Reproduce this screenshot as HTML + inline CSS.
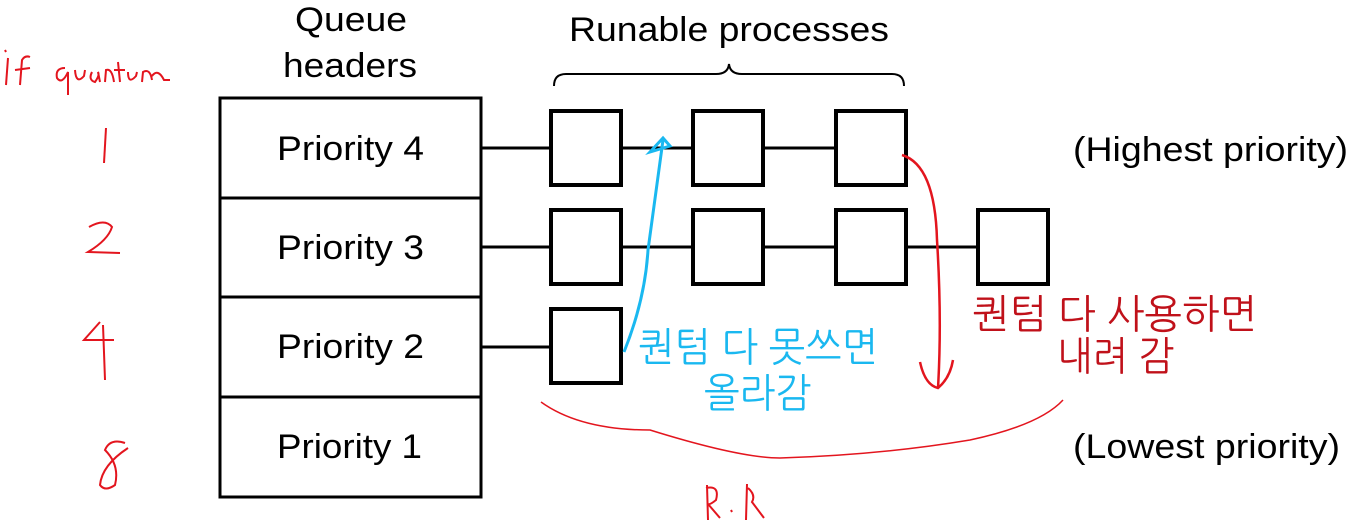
<!DOCTYPE html>
<html><head><meta charset="utf-8"><style>
html,body{margin:0;padding:0;background:#fff;}
svg{display:block}
text{font-family:"Liberation Sans",Arial,sans-serif;}
.k{font-family:"Liberation Sans","NanumGothic","Noto Sans CJK KR",sans-serif;}
</style></head><body>
<svg width="1361" height="532" viewBox="0 0 1361 532" xmlns="http://www.w3.org/2000/svg">
<g fill="#000" font-size="34">
<text x="295" y="31" textLength="112" lengthAdjust="spacingAndGlyphs">Queue</text>
<text x="283" y="77" textLength="134" lengthAdjust="spacingAndGlyphs">headers</text>
<text x="569" y="41" textLength="320" lengthAdjust="spacingAndGlyphs">Runable processes</text>
<text x="1073" y="161" textLength="275" lengthAdjust="spacingAndGlyphs">(Highest priority)</text>
<text x="1073" y="458" textLength="267" lengthAdjust="spacingAndGlyphs">(Lowest priority)</text>
<text x="277" y="160" textLength="147" lengthAdjust="spacingAndGlyphs">Priority 4</text>
<text x="277" y="259" textLength="147" lengthAdjust="spacingAndGlyphs">Priority 3</text>
<text x="277" y="358" textLength="147" lengthAdjust="spacingAndGlyphs">Priority 2</text>
<text x="277" y="458" textLength="145" lengthAdjust="spacingAndGlyphs">Priority 1</text>
</g>
<g fill="none" stroke="#000" stroke-width="3">
<rect x="220" y="98" width="261" height="100"/>
<rect x="220" y="198" width="261" height="99"/>
<rect x="220" y="297" width="261" height="100"/>
<rect x="220" y="397" width="261" height="100"/>
<path d="M554 86 Q554 74 566 74 L716 74 Q728 74 729 64 Q730 74 742 74 L892 74 Q904 74 904 86" stroke-width="2"/>
<line x1="481" y1="148" x2="835" y2="148"/>
<line x1="481" y1="247" x2="977" y2="247"/>
<line x1="481" y1="347" x2="550" y2="347"/>
</g>
<g fill="#fff" stroke="#000" stroke-width="4">
<rect x="551" y="111" width="70" height="74"/>
<rect x="693" y="111" width="70" height="74"/>
<rect x="836" y="111" width="70" height="74"/>
<rect x="551" y="210" width="70" height="74"/>
<rect x="693" y="210" width="70" height="74"/>
<rect x="836" y="210" width="70" height="74"/>
<rect x="978" y="210" width="70" height="74"/>
<rect x="551" y="309" width="70" height="74"/>
</g>
<g fill="none" stroke="#1ab8f0" stroke-width="3">
<path d="M624 352 Q645 300 648 250 Q655 200 663 140"/>
<path d="M650 152 L663 138 L670 146 Z"/>
</g>
<text class="k" x="638" y="361" font-size="40" fill="#1ab8f0" textLength="240" lengthAdjust="spacingAndGlyphs">퀀텀 다 못쓰면</text>
<text class="k" x="704" y="407" font-size="40" fill="#1ab8f0" textLength="107" lengthAdjust="spacingAndGlyphs">올라감</text>
<g fill="none" stroke="#e3151e" stroke-width="2.5">
<path d="M902 155 Q935 165 937 240 Q942 320 938 388"/>
<path d="M920 362 Q925 385 938 388 Q950 378 953 360"/>
<path d="M541 402 Q580 430 650 430 Q740 458 780 458 Q880 455 970 440 Q1040 425 1063 400" stroke-width="1.5"/>
</g>
<text class="k" x="972" y="328" font-size="40" fill="#c0111a" textLength="285" lengthAdjust="spacingAndGlyphs">퀀텀 다 사용하면</text>
<text class="k" x="1057" y="370" font-size="40" fill="#c0111a" textLength="117" lengthAdjust="spacingAndGlyphs">내려 감</text>
<g fill="none" stroke="#e3151e" stroke-width="2">
<path d="M106 128 L104 163"/>
<path d="M89 227 Q105 218 112 227 Q108 240 88 252 L120 253"/>
<path d="M100 322 L84 340 L114 340 M103 325 L105 380"/>
<path d="M125 443 Q110 438 105 450 Q120 465 115 485 Q105 492 100 485 Q102 465 128 448"/>
<path d="M8 58 L6 85 M5 50 L6 52 M20 85 L22 60 Q25 55 30 57 M15 70 L30 68"/>
<path d="M65 68 Q55 68 57 78 Q62 85 68 72 L68 95 M75 70 Q76 85 84 76 L85 70 M92 72 Q88 80 95 82 Q100 75 98 72 L100 82 M105 82 L106 70 Q112 68 114 82 M118 62 L120 82 M114 70 L125 70 M128 72 Q128 85 136 76 L137 72 M142 82 L143 72 Q150 68 152 80 M152 76 Q158 68 164 80 L170 80"/>
<path d="M707 485 L708 520 M706 488 Q720 485 716 500 Q710 505 708 504 L720 518 M731 510 L732 512 M747 484 L746 520 M748 488 Q756 495 752 502 L764 518"/>
</g>
</svg>
</body></html>
